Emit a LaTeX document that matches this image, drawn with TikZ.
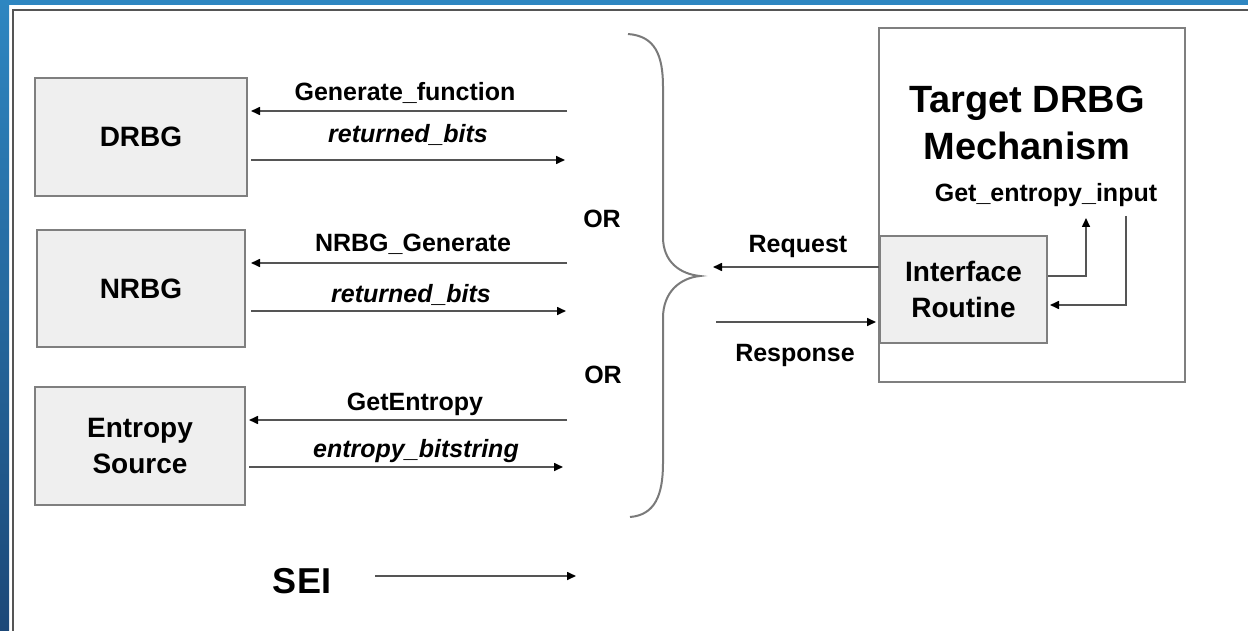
\documentclass[tikz,border=0pt]{standalone}
\usepackage{fontspec}
\setmainfont{Liberation Sans}
\usetikzlibrary{arrows.meta}
\definecolor{boxfill}{HTML}{EFEFEF}
\definecolor{boxline}{HTML}{7F7F7F}
\definecolor{linecol}{HTML}{555555}
\definecolor{bracecol}{HTML}{7A7A7A}
\definecolor{blueA}{HTML}{2E86C1}
\definecolor{blueB}{HTML}{1C4878}
\definecolor{framecol}{HTML}{555555}
\tikzset{
  box/.style={draw=boxline, fill=boxfill, line width=2pt, align=center,
    font=\fontsize{28}{36}\selectfont\bfseries, inner sep=0pt},
  bigbox/.style={draw=boxline, fill=white, line width=2pt, inner sep=0pt},
  lbl/.style={font=\fontsize{25}{30}\selectfont\bfseries, anchor=base, inner sep=0pt},
  ilbl/.style={font=\fontsize{25}{30}\selectfont\bfseries\itshape, anchor=base, inner sep=0pt},
  arr/.style={draw=linecol, line width=1.6pt, -{Triangle[length=9pt,width=8pt,color=black]}},
}
\begin{document}
\begin{tikzpicture}[x=1pt,y=-1pt]
\useasboundingbox (0,0) rectangle (1248,631);
% frame
\shade[top color=blueA, bottom color=blueB] (0,0) rectangle (9,631);
\fill[blueA] (0,0) rectangle (1248,5.5);
\draw[framecol, line width=2pt] (12.5,631) -- (12.5,10) -- (1248,10);

% left boxes
\node[box, minimum width=212pt, minimum height=118pt] (drbg) at (141,137) {DRBG};
\node[box, minimum width=208pt, minimum height=117pt] (nrbg) at (141,288.5) {NRBG};
\node[box, minimum width=210pt, minimum height=118pt] (ent) at (140,446) {Entropy\\Source};

% target
\node[bigbox, minimum width=306pt, minimum height=354pt] (target) at (1032,205) {};
\node[font=\fontsize{38}{47}\selectfont\bfseries, align=center, inner sep=0pt] (title) at (1027,123) {Target DRBG\\Mechanism};
\node[box, minimum width=167pt, minimum height=107pt] (iface) at (963.5,289.5) {Interface\\Routine};
\node[lbl] (gei) at (1046,202) {Get\_entropy\_input};

% coordinates
\coordinate (gfR) at (567,111);
\coordinate (rb1) at (565,160);
\coordinate (ngR) at (567,263);
\coordinate (rb2) at (566,311);
\coordinate (geR) at (567,420);
\coordinate (ebR) at (563,467);
\coordinate (req) at (713,267);
\coordinate (resp) at (716,322);
\coordinate (geOut) at (1047,276);
\coordinate (geUp) at (1086,218);
\coordinate (geDown) at (1126,216);
\coordinate (geIn) at (1047,305);
\coordinate (seiEnd) at (576,576);

% left arrows
\draw[arr, shorten >=3pt] (gfR) -- (drbg.east |- gfR);
\draw[arr, shorten <=3pt] (drbg.east |- rb1) -- (rb1);
\draw[arr, shorten >=5pt] (ngR) -- (nrbg.east |- ngR);
\draw[arr, shorten <=5pt] (nrbg.east |- rb2) -- (rb2);
\draw[arr, shorten >=3pt] (geR) -- (ent.east |- geR);
\draw[arr, shorten <=3pt] (ent.east |- ebR) -- (ebR);

% labels
\node[lbl] (l1) at (405,101) {Generate\_function};
\node[ilbl] (l2) at (408,143) {returned\_bits};
\node[lbl] (l3) at (413,252) {NRBG\_Generate};
\node[ilbl] (l4) at (411,302) {returned\_bits};
\node[lbl] (l5) at (415,410) {GetEntropy};
\node[ilbl] (l6) at (416,457) {entropy\_bitstring};
\node[lbl] (or1) at (602,228) {OR};
\node[lbl] (or2) at (603,383) {OR};

% brace
\draw[bracecol, line width=2pt] (628,34) .. controls (655,36) and (663,55) .. (663,87)
  -- (663,237) .. controls (663,262) and (680,274) .. (700,276)
  .. controls (680,278) and (663,292) .. (663,318)
  -- (663,463) .. controls (663,495) and (655,515) .. (630,517);

% request / response
\draw[arr] (iface.west |- req) -- (req);
\draw[arr, shorten >=3pt] (resp) -- (iface.west |- resp);
\node[lbl] (reql) at (798,253) {Request};
\node[lbl] (respl) at (795,361) {Response};

% get entropy input loop
\draw[arr] (iface.east |- geOut) -| (geUp);
\draw[arr, shorten >=2pt] (geDown) |- (iface.east |- geIn);

% SEI
\node[font=\fontsize{36}{42}\selectfont\bfseries, anchor=base, inner sep=0pt] (sei) at (302,593) {SEI};
\draw[arr, shorten <=44pt] (sei.east |- seiEnd) -- (seiEnd);
\end{tikzpicture}
\end{document}
